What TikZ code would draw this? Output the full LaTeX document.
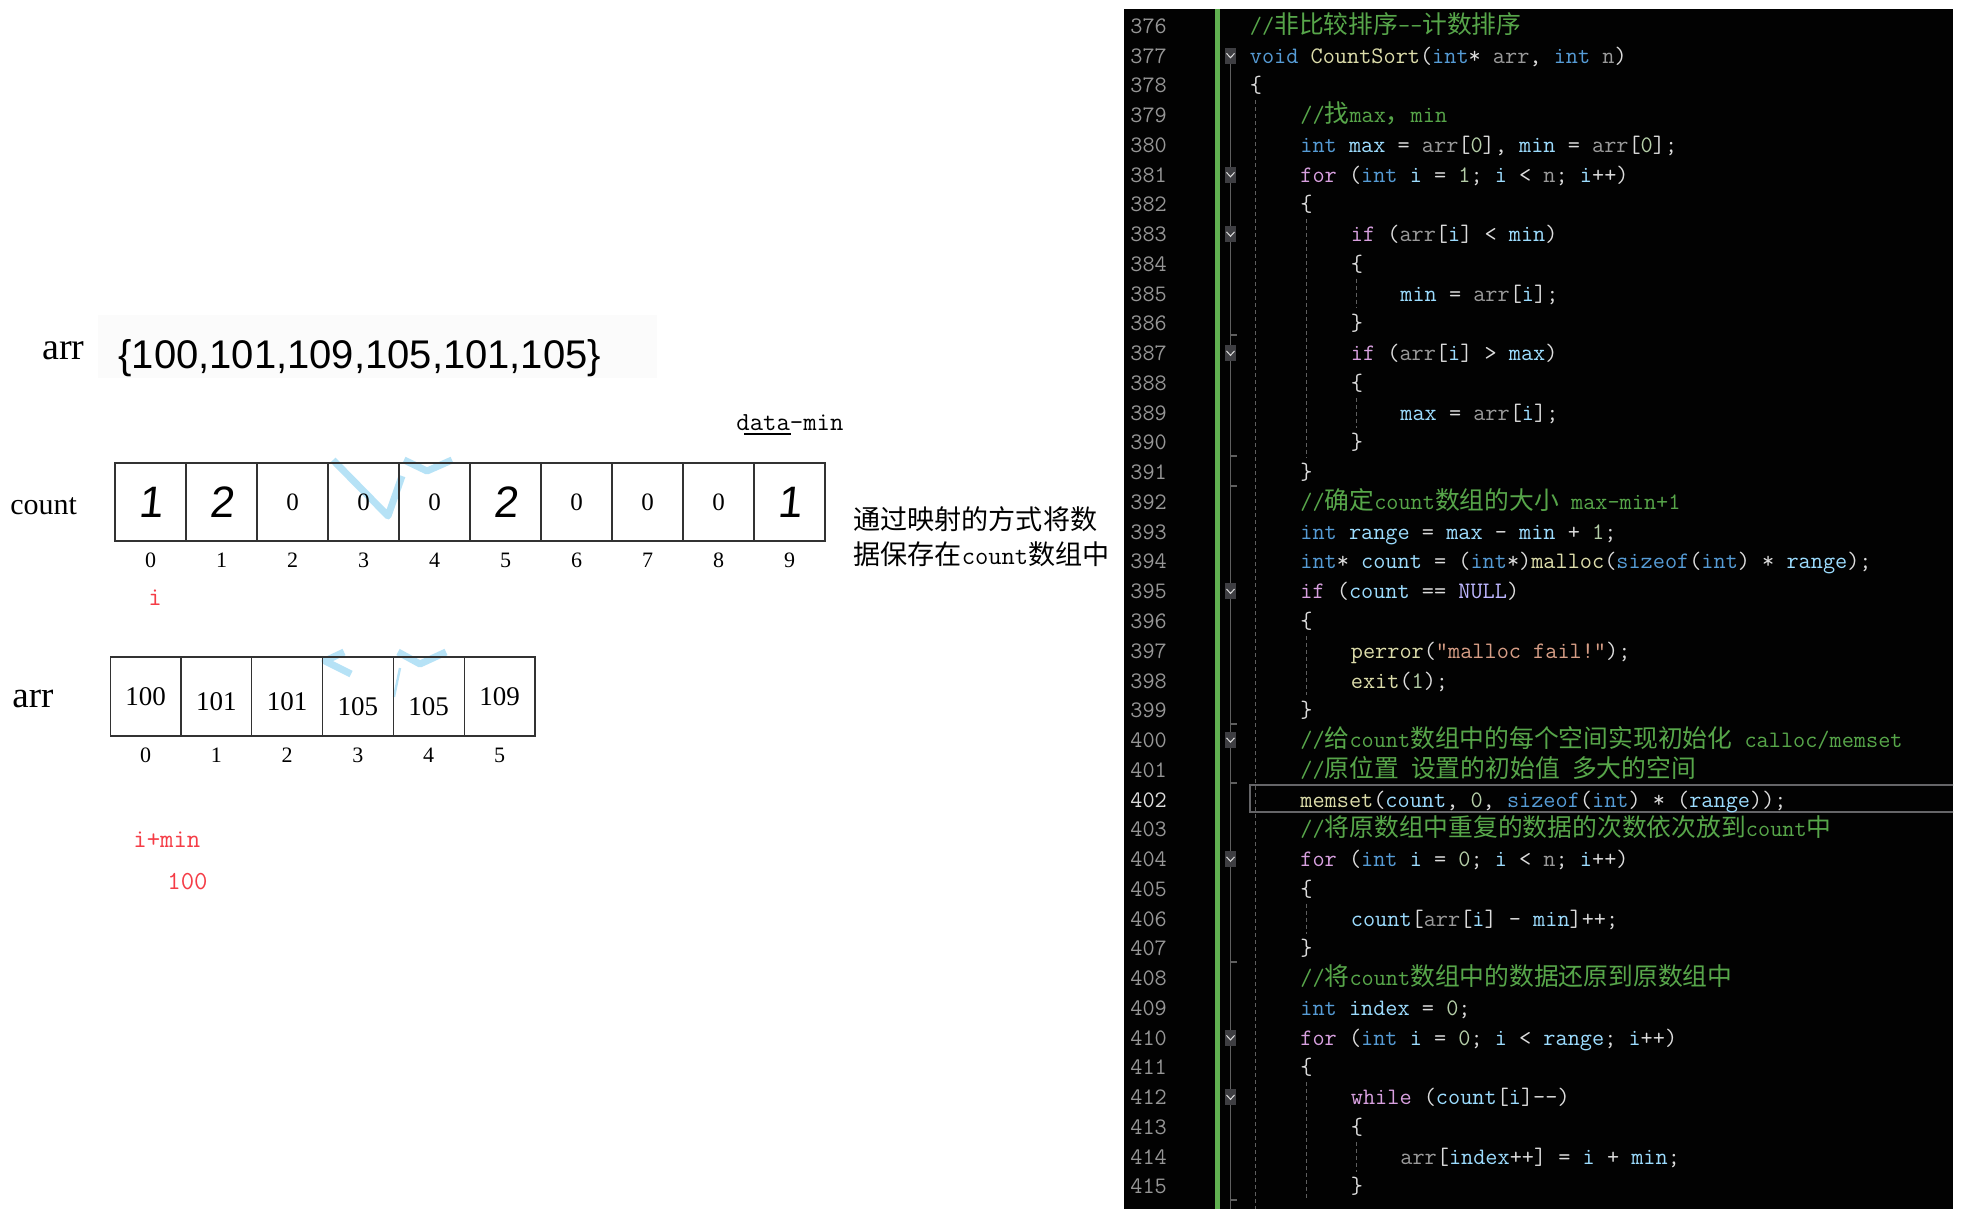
\documentclass[tikz,border=0pt]{standalone}
\usepackage{fontspec}
\usetikzlibrary{positioning}
\newfontfamily\cjkfont[Scale=1.05]{Noto Sans CJK SC}
\newfontfamily\serifnum{Liberation Serif}
\newfontfamily\sansnum{Liberation Sans}
\newfontfamily\handnum[FakeSlant=0.1]{Liberation Sans}

\definecolor{celledge}{RGB}{50,50,50}
\definecolor{markred}{RGB}{245,60,70}
\definecolor{wmblue}{RGB}{170,222,245}
\definecolor{vsback}{RGB}{2,2,2}
\definecolor{vsbar}{RGB}{96,176,80}
\definecolor{vscom}{RGB}{87,166,74}
\definecolor{vskey}{RGB}{86,156,214}
\definecolor{vsctrl}{RGB}{216,160,223}
\definecolor{vsfunc}{RGB}{220,220,170}
\definecolor{vspar}{RGB}{154,154,154}
\definecolor{vsvar}{RGB}{156,220,254}
\definecolor{vsnum}{RGB}{181,206,168}
\definecolor{vsstr}{RGB}{214,157,133}
\definecolor{vsmacro}{RGB}{190,183,255}
\definecolor{vstext}{RGB}{220,220,220}
\definecolor{vslnum}{RGB}{150,150,150}
\definecolor{vsguide}{RGB}{95,95,95}
\definecolor{vsfold}{RGB}{62,62,66}

\newcommand\cKw[1]{\textcolor{vskey}{#1}}
\newcommand\cCtl[1]{\textcolor{vsctrl}{#1}}
\newcommand\cFn[1]{\textcolor{vsfunc}{#1}}
\newcommand\cPar[1]{\textcolor{vspar}{#1}}
\newcommand\cVar[1]{\textcolor{vsvar}{#1}}
\newcommand\cNum[1]{\textcolor{vsnum}{#1}}
\newcommand\cStr[1]{\textcolor{vsstr}{#1}}
\newcommand\cCom[1]{\textcolor{vscom}{#1}}
\newcommand\cMac[1]{\textcolor{vsmacro}{#1}}
\newcommand\zh[1]{{\cjkfont #1}}

\begin{document}
\begin{tikzpicture}[
  x=0.5pt, y=-0.5pt,
  cell/.style={draw=celledge, line width=0.6pt, minimum width=35.5pt, minimum height=39pt, inner sep=0pt, outer sep=0pt, font=\serifnum\fontsize{12.5pt}{15pt}\selectfont},
  handcell/.style={cell, font=\handnum\fontsize{22pt}{26pt}\selectfont},
  arrcell/.style={cell, minimum width=35.4pt, minimum height=39.5pt, text height=9pt, text depth=0pt, font=\serifnum\fontsize{13.5pt}{16pt}\selectfont},
  idx/.style={inner sep=0pt, text height=7.4pt, text depth=0pt, font=\serifnum\fontsize{11pt}{13pt}\selectfont},
  lbl/.style={anchor=base west, inner sep=0pt, font=\serifnum\fontsize{15pt}{18pt}\selectfont},
  redtxt/.style={anchor=base west, inner sep=0pt, text=markred, font=\ttfamily\fontsize{13pt}{16pt}\selectfont},
  rim/.style={draw=celledge, line width=1.2pt},
  wm/.style={draw=wmblue, line width=3.5pt, opacity=0.85, line join=round},
  code/.style={anchor=base west, inner sep=0pt, text=vstext, font=\ttfamily\fontsize{11.8pt}{14pt}\selectfont},
  lnum/.style={code, text=vslnum},
  fold/.style={fill=vsfold, minimum width=5.5pt, minimum height=8pt, inner sep=0pt},
  foldmark/.style={draw=vstext, line width=0.5pt},
  guide/.style={draw=vsguide, line width=0.5pt, dash pattern=on 2pt off 1.5pt},
  foldline/.style={draw=vsguide, line width=0.7pt}
]
  \fill[white] (0,0) rectangle (1965,1209);
  \useasboundingbox (0,0) rectangle (1965,1209);

  % watermark traces
  \draw[wm] (333,460) -- (388,516) -- (402,476);
  \draw[wm] (404,460) -- (427,471) -- (452,460);
  \draw[wm] (344,652) -- (325,661) -- (351,674);
  \draw[wm] (398,652) -- (420,664) -- (446,652);
  \draw[wmblue, line width=1.2pt, opacity=0.85] (400,668) -- (394,697);

  % the data
  \node[lbl, font=\serifnum\fontsize{19pt}{22pt}\selectfont] (arrtop) at (42,359) {arr};
  \fill[black!1.5] (98,315) rectangle (657,378);
  \node[anchor=base west, inner sep=0pt, font=\sansnum\fontsize{20pt}{24pt}\selectfont] (arrdata) at (118,368) {\{100,101,109,105,101,105\}};

  % count array
  \node[redtxt, text=black] (dmin) at (736,430) {data-min};
  \draw[black, line width=0.8pt] ([xshift=4pt,yshift=-2pt]dmin.base west) -- ([xshift=27.5pt,yshift=-2pt]dmin.base west);
  \node[lbl] (countlbl) at (10,514) {count};
  \node[handcell] (c0) at (150.5,502) {1};
  \node[handcell, right=0pt of c0] (c1) {2};
  \node[cell, right=0pt of c1] (c2) {0};
  \node[cell, right=0pt of c2] (c3) {0};
  \node[cell, right=0pt of c3] (c4) {0};
  \node[handcell, right=0pt of c4] (c5) {2};
  \node[cell, right=0pt of c5] (c6) {0};
  \node[cell, right=0pt of c6] (c7) {0};
  \node[cell, right=0pt of c7] (c8) {0};
  \node[handcell, right=0pt of c8] (c9) {1};
  \draw[rim] (c0.north west) -- (c9.north east);
  \draw[rim] (c0.south west) -- (c9.south east);
  \foreach \i in {0,...,9}
    \node[idx, below=5.5pt of c\i] (ci\i) {\i};
  \node[redtxt] (imark) at (148,605) {i};
  \node[anchor=west, inner sep=0pt, align=left, font=\cjkfont\fontsize{12.9pt}{17.5pt}\selectfont] (mapnote) at (853,536.5) {通过映射的方式将数\\据保存在{\ttfamily count}数组中};

  % sorted arr
  \node[lbl, font=\serifnum\fontsize{18.5pt}{22pt}\selectfont] (arrlbl) at (12,707) {arr};
  \node[arrcell] (a0) at (145.5,696.5) {100};
  \node[arrcell, right=0pt of a0] (a1) {\raisebox{-2.25pt}{101}};
  \node[arrcell, right=0pt of a1] (a2) {\raisebox{-2.25pt}{101}};
  \node[arrcell, right=0pt of a2] (a3) {\raisebox{-5pt}{105}};
  \node[arrcell, right=0pt of a3] (a4) {\raisebox{-5pt}{105}};
  \node[arrcell, right=0pt of a4] (a5) {109};
  \draw[rim] (a0.north west) -- (a5.north east);
  \draw[rim] (a0.south west) -- (a5.south east);
  \foreach \i in {0,...,5}
    \node[idx, below=5.5pt of a\i] (ai\i) {\i};
  \node[redtxt] (imin) at (133,847) {i+min};
  \node[redtxt] (ival) at (167,889) {100};

  % code panel
  \fill[vsback] (1124,9) rectangle (1953,1209);
  \begin{scope}
    \clip (1124,9) rectangle (1953,1209);
    \fill[vsbar] (1215,9) rectangle (1220,1209);
    \draw[foldline] (1230.5,63) -- (1230.5,1209);
    \foreach \t in {335,456,486,724,783,962,1200}
      \draw[foldline] (1230.5,\t) -- (1237,\t);
    \foreach \k in {377,381,383,387,395,400,404,410,412} {
      \pgfmathsetmacro\yy{25.8+(\k-376)*29.76}
      \node[fold] (f\k) at (1230.5,\yy) {};
      \draw[foldmark] ([xshift=-2pt,yshift=1.1pt]f\k.center) -- ([yshift=-1.1pt]f\k.center) -- ([xshift=2pt,yshift=1.1pt]f\k.center);
    }
    % indent guides
    \draw[guide] (1255.7,100.2) -- (1255.7,1209);
    \draw[guide] (1306,219.2) -- (1306,457.3);
    \draw[guide] (1306,635.9) -- (1306,695.4);
    \draw[guide] (1306,903.7) -- (1306,933.5);
    \draw[guide] (1306,1082.3) -- (1306,1201.3);
    \draw[guide] (1356,278.7) -- (1356,308.5);
    \draw[guide] (1356,397.8) -- (1356,427.6);
    \draw[guide] (1356,1141.8) -- (1356,1171.6);
    % current line
    \draw[draw=vsfold!80!white, line width=1pt] (1249.5,785) rectangle (1965,812);

    % line numbers
    \foreach \k in {376,...,401} {
      \pgfmathsetmacro\yy{33.3+(\k-376)*29.76}
      \node[lnum] (n\k) at (1130,\yy) {\k};
    }
    \foreach \k in {403,...,415} {
      \pgfmathsetmacro\yy{33.3+(\k-376)*29.76}
      \node[lnum] (n\k) at (1130,\yy) {\k};
    }
    \node[lnum, text=vstext] (n402) at (1130,807.06) {402};

    % code
    \def\xa{1249.5}\def\xb{1300}\def\xc{1350.5}\def\xd{1400}
    \node[code] (l376) at (\xa,33.3) {\cCom{//\zh{非比较排序}-{}-\zh{计数排序}}};
    \node[code] (l377) at (\xa,63.06) {\cKw{void} \cFn{CountSort}(\cKw{int}* \cPar{arr}, \cKw{int} \cPar{n})};
    \node[code] (l378) at (\xa,92.82) {\{};
    \node[code] (l379) at (\xb,122.58) {\cCom{//\zh{找}max\zh{，}min}};
    \node[code] (l380) at (\xb,152.34) {\cKw{int} \cVar{max} = \cPar{arr}[\cNum{0}], \cVar{min} = \cPar{arr}[\cNum{0}];};
    \node[code] (l381) at (\xb,182.1) {\cCtl{for} (\cKw{int} \cVar{i} = \cNum{1}; \cVar{i} < \cPar{n}; \cVar{i}++)};
    \node[code] (l382) at (\xb,211.86) {\{};
    \node[code] (l383) at (\xc,241.62) {\cCtl{if} (\cPar{arr}[\cVar{i}] < \cVar{min})};
    \node[code] (l384) at (\xc,271.38) {\{};
    \node[code] (l385) at (\xd,301.14) {\cVar{min} = \cPar{arr}[\cVar{i}];};
    \node[code] (l386) at (\xc,330.9) {\}};
    \node[code] (l387) at (\xc,360.66) {\cCtl{if} (\cPar{arr}[\cVar{i}] > \cVar{max})};
    \node[code] (l388) at (\xc,390.42) {\{};
    \node[code] (l389) at (\xd,420.18) {\cVar{max} = \cPar{arr}[\cVar{i}];};
    \node[code] (l390) at (\xc,449.94) {\}};
    \node[code] (l391) at (\xb,479.7) {\}};
    \node[code] (l392) at (\xb,509.46) {\cCom{//\zh{确定}count\zh{数组的大小} max-min+1}};
    \node[code] (l393) at (\xb,539.22) {\cKw{int} \cVar{range} = \cVar{max} - \cVar{min} + \cNum{1};};
    \node[code] (l394) at (\xb,568.98) {\cKw{int}* \cVar{count} = (\cKw{int}*)\cFn{malloc}(\cKw{sizeof}(\cKw{int}) * \cVar{range});};
    \node[code] (l395) at (\xb,598.74) {\cCtl{if} (\cVar{count} == \cMac{NULL})};
    \node[code] (l396) at (\xb,628.5) {\{};
    \node[code] (l397) at (\xc,658.26) {\cFn{perror}(\cStr{"malloc fail!"});};
    \node[code] (l398) at (\xc,688.02) {\cFn{exit}(\cNum{1});};
    \node[code] (l399) at (\xb,717.78) {\}};
    \node[code] (l400) at (\xb,747.54) {\cCom{//\zh{给}count\zh{数组中的每个空间实现初始化} calloc/memset}};
    \node[code] (l401) at (\xb,777.3) {\cCom{//\zh{原位置} \zh{设置的初始值} \zh{多大的空间}}};
    \node[code] (l402) at (\xb,807.06) {\cFn{memset}(\cVar{count}, \cNum{0}, \cKw{sizeof}(\cKw{int}) * (\cVar{range}));};
    \node[code] (l403) at (\xb,836.82) {\cCom{//\zh{将原数组中重复的数据的次数依次放到}count\zh{中}}};
    \node[code] (l404) at (\xb,866.58) {\cCtl{for} (\cKw{int} \cVar{i} = \cNum{0}; \cVar{i} < \cPar{n}; \cVar{i}++)};
    \node[code] (l405) at (\xb,896.34) {\{};
    \node[code] (l406) at (\xc,926.1) {\cVar{count}[\cPar{arr}[\cVar{i}] - \cVar{min}]++;};
    \node[code] (l407) at (\xb,955.86) {\}};
    \node[code] (l408) at (\xb,985.62) {\cCom{//\zh{将}count\zh{数组中的数据还原到原数组中}}};
    \node[code] (l409) at (\xb,1015.38) {\cKw{int} \cVar{index} = \cNum{0};};
    \node[code] (l410) at (\xb,1045.14) {\cCtl{for} (\cKw{int} \cVar{i} = \cNum{0}; \cVar{i} < \cVar{range}; \cVar{i}++)};
    \node[code] (l411) at (\xb,1074.9) {\{};
    \node[code] (l412) at (\xc,1104.66) {\cCtl{while} (\cVar{count}[\cVar{i}]-{}-)};
    \node[code] (l413) at (\xc,1134.42) {\{};
    \node[code] (l414) at (\xd,1164.18) {\cPar{arr}[\cVar{index}++] = \cVar{i} + \cVar{min};};
    \node[code] (l415) at (\xc,1193.94) {\}};
  \end{scope}
\end{tikzpicture}
\end{document}
